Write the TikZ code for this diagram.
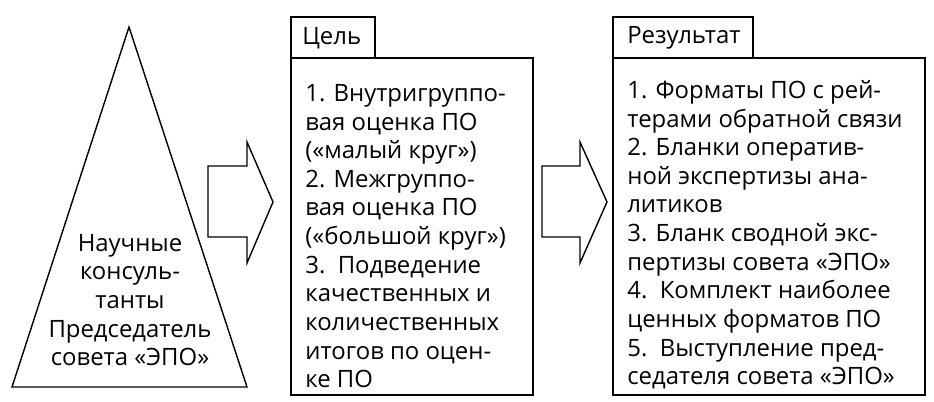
\documentclass[tikz,border=0pt]{standalone}
\usepackage{fontspec}
\setmainfont{Open Sans}
\usetikzlibrary{positioning}
\tikzset{
  frame/.style={draw=black, thick},
  txt/.style={inner sep=0pt, align=left, font=\fontsize{13.6}{16.3}\selectfont},
  tab/.style={frame, anchor=south west, inner xsep=3pt, inner ysep=0pt, minimum height=0.82cm, font=\fontsize{13.6}{15}\selectfont}
}
\begin{document}
\begin{tikzpicture}[x=0.02cm, y=-0.02cm]
\useasboundingbox (0,0) rectangle (934,402);

% pyramid
\draw[frame] (12,387) -- (129,27) -- (247,387) -- cycle;
\node[txt, align=center] (people) at (130,300) {Научные\\консуль-\\танты\\Председатель\\совета «ЭПО»};

% arrows
\draw[frame] (208,166) -- (247,166) -- (247,142) -- (273,202) -- (247,263) -- (247,237) -- (208,237) -- cycle;
\draw[frame] (542,166) -- (580,166) -- (580,142) -- (607,202) -- (580,263) -- (580,237) -- (542,237) -- cycle;

% goal box
\draw[frame] (291,58) rectangle (533,395);
\draw[frame] (291,17) rectangle (375,58);
\node[anchor=west, txt] (goaltab) at (302,38) {Цель};
\node[txt, anchor=north west] (goal) at (305,84) {1. Внутригруппо-\\вая оценка ПО\\(«малый круг»)\\2. Межгруппо-\\вая оценка ПО\\(«большой круг»)\\3.\ \ Подведение\\качественных и\\количественных\\итогов по оцен-\\ке ПО};

% result box
\draw[frame] (613,58) rectangle (925,395);
\draw[frame] (613,17) rectangle (753,58);
\node[anchor=west, txt] (restab) at (627,38) {Результат};
\node[txt, anchor=north west] (result) at (627,80) {1. Форматы ПО с рей-\\терами обратной связи\\2. Бланки оператив-\\ной экспертизы ана-\\литиков\\3. Бланк сводной экс-\\пертизы совета «ЭПО»\\4.\ \ Комплект наиболее\\ценных форматов ПО\\5.\ \ Выступление пред-\\седателя совета «ЭПО»};
\end{tikzpicture}
\end{document}
